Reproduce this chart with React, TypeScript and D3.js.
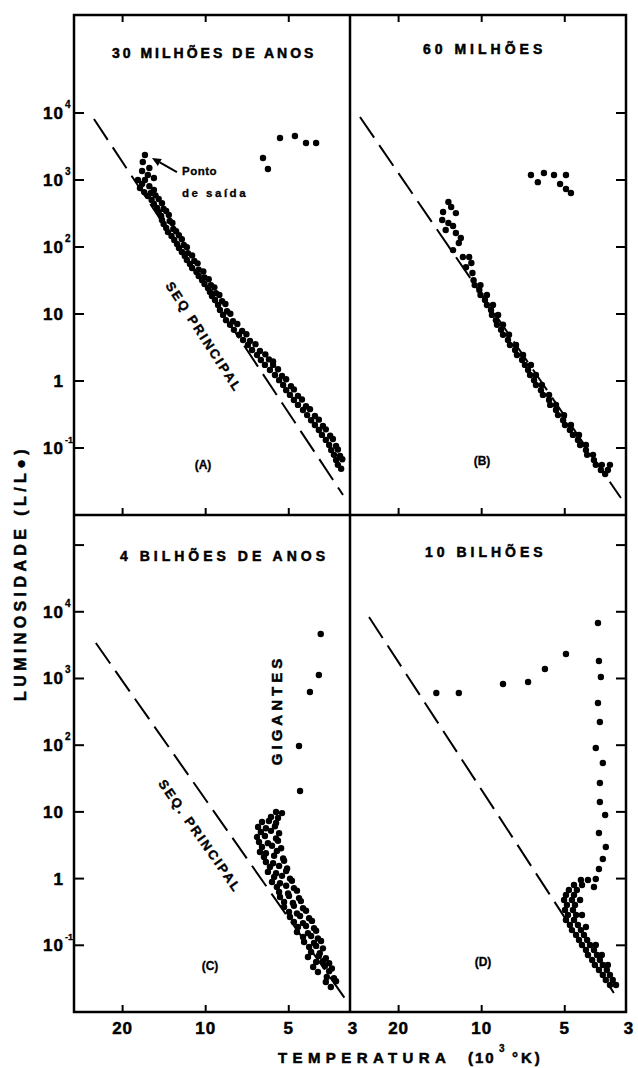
import React from 'react';
import * as d3 from 'd3';

const W = 638;
const H = 1068;

// temperature in 10^3 K, luminosity in L/Lsun
const tempTicks = [20, 10, 5, 3];
const lumTicksTop = [0.1, 1, 10, 100, 1000, 10000];
const lumTicksBottom = [0.1, 1, 10, 100, 1000, 10000, 100000];
const lumLabels = [
  { v: 10000, base: '10', exp: '4' },
  { v: 1000, base: '10', exp: '3' },
  { v: 100, base: '10', exp: '2' },
  { v: 10, base: '10', exp: '' },
  { v: 1, base: '1', exp: '' },
  { v: 0.1, base: '10', exp: '-1' },
];

// (A) 30 milhões de anos
const starsA: [number, number][] = [
  [16.6, 2360], [16.9, 1860], [16.0, 1510], [17.0, 1360], [16.2, 1190], [15.4, 1070],
  [17.6, 1000], [16.6, 1000], [17.0, 870], [16.0, 810], [17.3, 760], [15.4, 710],
  [16.7, 660], [15.8, 640], [16.2, 577], [15.2, 590], [15.7, 502], [14.8, 520],
  [15.4, 438], [14.4, 450], [15.0, 382], [14.2, 370], [14.8, 333], [13.9, 345],
  [14.5, 290], [13.6, 300], [14.4, 253], [13.5, 245], [14.2, 220], [13.2, 228],
  [13.9, 192], [13.1, 186], [13.7, 167], [12.8, 172], [13.3, 146], [12.5, 150],
  [13.0, 127], [12.2, 131], [12.7, 111], [12.0, 107], [12.5, 96.6], [11.7, 99],
  [12.2, 84.2], [11.6, 81], [11.9, 73.4], [11.2, 75], [11.7, 64], [11.0, 62],
  [11.4, 55.8], [10.7, 57], [11.2, 48.6], [10.6, 46], [10.8, 42.4], [10.2, 43],
  [10.6, 36.9], [10.1, 35], [10.3, 32], [9.75, 33], [10.1, 28.0], [9.57, 27],
  [9.81, 24.4], [9.30, 25], [9.65, 21.3], [9.18, 20.5], [9.49, 18.6], [8.92, 19.2],
  [9.25, 16.2], [8.72, 15.5], [9.02, 13.6], [8.48, 14.1], [8.88, 11.5], [8.37, 11.0],
  [8.65, 9.7], [8.14, 10.1], [8.44, 8.1], [7.96, 7.8], [8.16, 6.9], [7.68, 7.1],
  [7.90, 5.8], [7.38, 5.6], [7.57, 4.9], [7.12, 5.0], [7.32, 4.1], [6.91, 3.95],
  [7.03, 3.45], [6.60, 3.55], [6.79, 2.9], [6.36, 2.8], [6.52, 2.45], [6.08, 2.5],
  [6.31, 2.06], [5.90, 2.1], [5.70, 1.95], [6.10, 1.74], [5.70, 1.74],
  [5.85, 1.46], [5.47, 1.5], [5.61, 1.23], [5.29, 1.19], [5.42, 1.03], [5.11, 1.06],
  [5.24, 0.87], [4.91, 0.84], [5.11, 0.73], [4.79, 0.75], [4.95, 0.62], [4.63, 0.6],
  [4.79, 0.52], [4.48, 0.53], [4.63, 0.44], [4.33, 0.42], [4.44, 0.37], [4.19, 0.38],
  [4.29, 0.31], [4.02, 0.3], [4.15, 0.26], [3.89, 0.265], [4.02, 0.22], [3.76, 0.213],
  [3.89, 0.186], [3.67, 0.19], [3.79, 0.157], [3.54, 0.152], [3.67, 0.132], [3.46, 0.136],
  [3.57, 0.111], [3.37, 0.107], [3.51, 0.093], [3.32, 0.095], [3.43, 0.079], [3.26, 0.076],
  [3.37, 0.066], [3.20, 0.068], [3.32, 0.056], [3.23, 0.049],
];
const giantsA: [number, number][] = [
  [6.20, 2130], [5.95, 1460], [5.38, 4240], [4.75, 4540], [4.33, 3570], [3.98, 3570],
];
const seqA: [number, number][] = [[25.4, 8130], [3.18, 0.0199]];

// (B) 60 milhões
const starsB: [number, number][] = [
  [13.2, 470], [12.9, 395], [13.8, 333], [12.4, 321], [13.2, 228], [13.9, 253],
  [12.7, 206], [13.5, 179], [12.4, 162], [11.9, 136], [12.1, 115], [12.7, 90],
  [11.7, 71], [11.1, 71], [10.9, 57.7], [11.4, 50], [10.8, 41], [10.7, 32],
  [10.6, 27], [10.1, 27], [10.2, 22.8], [10.1, 19.2], [9.57, 19.2], [9.73, 16.2],
  [9.57, 13.6], [9.10, 13.6], [9.25, 11.5], [9.18, 9.7], [8.72, 9.7], [8.88, 8.1],
  [8.80, 6.9], [8.37, 6.9], [8.51, 5.8], [8.37, 4.9], [7.96, 4.9], [8.03, 4.1],
  [7.90, 3.45], [7.51, 3.45], [7.57, 2.9], [7.45, 2.45], [7.08, 2.45], [7.14, 2.06],
  [6.97, 1.74], [6.63, 1.74], [6.79, 1.46], [6.68, 1.23], [6.36, 1.23], [6.46, 1.03],
  [6.36, 0.87], [6.05, 0.87], [6.10, 0.73], [6.00, 0.62], [5.70, 0.62], [5.70, 0.52],
  [5.65, 0.44], [5.38, 0.44], [5.38, 0.37], [5.29, 0.31], [5.03, 0.31], [5.07, 0.26],
  [4.99, 0.22], [4.75, 0.22], [4.79, 0.186], [4.67, 0.157], [4.44, 0.157], [4.48, 0.132],
  [4.40, 0.111], [4.19, 0.111], [4.19, 0.093], [4.15, 0.079], [3.95, 0.079], [3.92, 0.066],
  [3.86, 0.056], [3.67, 0.056], [3.43, 0.056], [3.70, 0.047], [3.49, 0.047], [3.57, 0.041],
];
const giantsB: [number, number][] = [
  [6.63, 1190], [5.95, 1270], [5.47, 1190], [4.95, 1190], [6.26, 930], [5.20, 870], [4.95, 735], [4.75, 640],
];
const seqB: [number, number][] = [[27.6, 8710], [3.13, 0.0179]];

// (C) 4 bilhões de anos
const starsC: [number, number][] = [
  [5.56, 9.97], [5.29, 9.6], [5.80, 8.38], [5.47, 8.1],
  [6.25, 7.06], [5.90, 7.3], [5.56, 6.8], [6.46, 5.94], [6.05, 5.7], [5.61, 6.1],
  [6.31, 5.00], [5.80, 5.2], [5.42, 4.8], [6.52, 4.20], [6.10, 4.35], [5.56, 4.0],
  [6.41, 3.54], [5.95, 3.4], [5.47, 3.7], [6.25, 2.98], [5.75, 3.1], [5.33, 2.85],
  [6.36, 2.50], [6.05, 2.4], [5.52, 2.6], [6.15, 2.11], [5.65, 2.2], [5.24, 2.0],
  [6.05, 1.77], [5.70, 1.7], [5.20, 1.85], [5.85, 1.49], [5.42, 1.55], [5.07, 1.42],
  [5.95, 1.26], [5.56, 1.2], [5.11, 1.3], [5.65, 1.06], [5.29, 1.1], [4.95, 1.0],
  [5.75, 0.889], [5.38, 0.85], [4.87, 0.93], [5.52, 0.748], [5.11, 0.78], [4.79, 0.72],
  [5.42, 0.630], [5.03, 0.6], [4.67, 0.66], [5.38, 0.530], [4.99, 0.55], [4.59, 0.51],
  [5.20, 0.446], [4.83, 0.43], [4.52, 0.46], [5.20, 0.375], [4.79, 0.39], [4.44, 0.36],
  [4.99, 0.316], [4.67, 0.3], [4.33, 0.33], [4.95, 0.266], [4.55, 0.275], [4.22, 0.255],
  [4.79, 0.224], [4.44, 0.215], [4.12, 0.232], [4.63, 0.188], [4.33, 0.195], [4.05, 0.18],
  [4.67, 0.158], [4.26, 0.152], [3.98, 0.165], [4.44, 0.133], [4.15, 0.138], [3.92, 0.127],
  [4.40, 0.112], [4.05, 0.108], [3.82, 0.116], [4.22, 0.0943], [3.98, 0.098], [3.76, 0.09],
  [4.15, 0.0794], [3.86, 0.076], [4.26, 0.0668], [3.89, 0.069], [3.67, 0.064],
  [3.98, 0.0562], [3.76, 0.058], [3.57, 0.054], [4.08, 0.0473], [3.70, 0.049], [3.49, 0.045],
  [3.92, 0.0398], [3.57, 0.041], [3.64, 0.0335], [3.43, 0.032], [3.67, 0.0282], [3.37, 0.029],
  [3.52, 0.0237],
];
const giantsC: [number, number][] = [[3.83, 4650], [3.89, 1130], [4.19, 628], [4.59, 97], [4.55, 20.6]];
const seqC: [number, number][] = [[25.0, 3400], [3.10, 0.0151]];

// (D) 10 bilhões
const starsD: [number, number][] = [
  [4.37, 0.953], [4.12, 0.953], [3.92, 0.748], [4.63, 0.802], [4.33, 0.802], [4.83, 0.675], [4.52, 0.675],
  [4.95, 0.568], [4.63, 0.568], [5.03, 0.478], [4.71, 0.478], [4.40, 0.478], [4.91, 0.402], [4.59, 0.402],
  [4.99, 0.338], [4.67, 0.338], [4.87, 0.284], [4.55, 0.284], [4.33, 0.284], [4.95, 0.239], [4.63, 0.239],
  [4.79, 0.201], [4.48, 0.201], [4.19, 0.188], [4.71, 0.169], [4.37, 0.169], [4.55, 0.143], [4.26, 0.143],
  [4.44, 0.120], [4.15, 0.120], [4.33, 0.101], [4.05, 0.101], [3.86, 0.101], [4.19, 0.085], [3.92, 0.085],
  [4.12, 0.0716], [3.82, 0.0716], [3.67, 0.0716], [3.98, 0.0603], [3.73, 0.0603], [3.89, 0.0507],
  [3.64, 0.0507], [3.49, 0.0507], [3.76, 0.0427], [3.52, 0.0427], [3.64, 0.0359], [3.43, 0.0359],
  [3.55, 0.0302], [3.35, 0.0302], [3.43, 0.0254], [3.26, 0.0254],
];
const giantsD: [number, number][] = [
  [3.79, 6790], [3.76, 1830], [3.70, 1050], [3.79, 429], [3.73, 223], [3.86, 90.8], [3.64, 54.1],
  [3.73, 27.1], [3.73, 14.1], [3.57, 8.99], [3.76, 4.83], [3.55, 2.98], [3.64, 1.97], [3.76, 1.39], [3.86, 0.986],
];
const horizD: [number, number][] = [[14.6, 606], [12.1, 606], [8.37, 827], [6.79, 886], [5.90, 1390], [4.95, 2330]];
const seqD: [number, number][] = [[25.6, 8360], [3.32, 0.0193]];

const LEFT = 74;
const MID = 350;
const RIGHT = 626;
const TOP = 15;
const MIDY = 515;
const BOTTOM = 1012;
const PW = 276;

const font = 'Liberation Sans, Arial, sans-serif';

const xFor = (x0: number) => d3.scaleLog().domain([30, 3]).range([x0, x0 + PW]);
const yTop = d3.scaleLog().domain([0.01, Math.pow(10, 5.463)]).range([MIDY, TOP]);
const yBot = d3.scaleLog().domain([0.01, Math.pow(10, 5.451)]).range([BOTTOM, MIDY]);

const panels = [
  { id: 'A', x: xFor(LEFT), y: yTop, pts: [...starsA, ...giantsA], seq: seqA, side: 'left', ticks: lumTicksTop,
    title: '30 MILHÕES DE ANOS', tx: 112, ty: 58, ls: 3, tag: '(A)', gx: 203, gy: 469 },
  { id: 'B', x: xFor(MID), y: yTop, pts: [...starsB, ...giantsB], seq: seqB, side: 'right', ticks: lumTicksTop,
    title: '60 MILHÕES', tx: 423, ty: 54, ls: 4, tag: '(B)', gx: 482, gy: 465 },
  { id: 'C', x: xFor(LEFT), y: yBot, pts: [...starsC, ...giantsC], seq: seqC, side: 'left', ticks: lumTicksBottom,
    title: '4 BILHÕES DE ANOS', tx: 120, ty: 561, ls: 4, tag: '(C)', gx: 210, gy: 970 },
  { id: 'D', x: xFor(MID), y: yBot, pts: [...starsD, ...giantsD, ...horizD], seq: seqD, side: 'right', ticks: lumTicksBottom,
    title: '10 BILHÕES', tx: 425, ty: 557, ls: 4, tag: '(D)', gx: 483, gy: 966 },
];

// heavier lettering, like the hand-stenciled original
const ink = { fill: '#000', stroke: '#000', strokeWidth: 0.5, fontWeight: 'bold' as const };

export default function App() {
  const line = d3.line();
  const xA = panels[0].x;
  const tip = [xA(16.6) + 7, yTop(2360) + 3];
  const tail = [tip[0] + 25, tip[1] + 14];
  const ang = Math.atan2(tip[1] - tail[1], tip[0] - tail[0]);
  const hb = [tip[0] - 9 * Math.cos(ang), tip[1] - 9 * Math.sin(ang)];
  const head = [
    tip,
    [hb[0] - 4 * Math.sin(ang), hb[1] + 4 * Math.cos(ang)],
    [hb[0] + 4 * Math.sin(ang), hb[1] - 4 * Math.cos(ang)],
  ];

  return (
    <svg width={W} height={H} style={{ position: 'absolute', left: 0, top: 0, background: '#fff' }} fontFamily={font}>
      <rect width={W} height={H} fill="#fff" />
      {/* frame */}
      <g stroke="#000" strokeWidth={2.5} fill="none">
        <rect x={LEFT} y={TOP} width={RIGHT - LEFT} height={BOTTOM - TOP} />
        <line x1={MID} x2={MID} y1={TOP} y2={BOTTOM} />
        <line x1={LEFT} x2={RIGHT} y1={MIDY} y2={MIDY} />
      </g>
      {panels.map((p) => {
        const isTop = p.id === 'A' || p.id === 'B';
        const x0 = p.x.range()[0];
        const xEdge = p.side === 'left' ? x0 : x0 + PW;
        const dir = p.side === 'left' ? 1 : -1;
        return (
          <g key={p.id}>
            {/* x ticks */}
            {tempTicks.slice(0, 3).map((t) => (
              <g key={t} stroke="#000" strokeWidth={2}>
                {isTop && <line x1={p.x(t)} x2={p.x(t)} y1={TOP} y2={TOP + 7} />}
                {isTop && <line x1={p.x(t)} x2={p.x(t)} y1={MIDY} y2={MIDY - 7} />}
                {!isTop && <line x1={p.x(t)} x2={p.x(t)} y1={BOTTOM} y2={BOTTOM - 7} />}
              </g>
            ))}
            {!isTop && tempTicks.map((t) => (
              <text key={'l' + t} x={p.x(t) + (t === 3 ? 3 : 0)} y={BOTTOM + 22} textAnchor="middle"
                fontSize={17} letterSpacing={1} {...ink}>{t}</text>
            ))}
            {/* y ticks */}
            {p.ticks.map((v) => (
              <line key={v} x1={xEdge} x2={xEdge + dir * 10} y1={p.y(v)} y2={p.y(v)} stroke="#000" strokeWidth={2} />
            ))}
            {p.side === 'left' && lumLabels.map((lb) => {
              const yy = p.y(lb.v);
              return (
                <g key={lb.v}>
                  <text x={LEFT - 10} y={yy + 6} textAnchor="end" fontSize={17} letterSpacing={1} {...ink}>{lb.base}</text>
                  {lb.exp && (
                    <text x={LEFT - 9} y={yy - 5} textAnchor="start" fontSize={lb.exp === '-1' ? 9 : 10}
                      {...ink} strokeWidth={0.3}>{lb.exp}</text>
                  )}
                </g>
              );
            })}
            {/* main sequence */}
            <path d={line(p.seq.map(([t, l]) => [p.x(t), p.y(l)]) as [number, number][]) || ''}
              fill="none" stroke="#000" strokeWidth={2} strokeDasharray="25 9" />
            {/* stars */}
            {p.pts.map(([t, l], i) => (
              <circle key={i} cx={p.x(t)} cy={p.y(l)} r={3.2} fill="#000" />
            ))}
            <text x={p.tx} y={p.ty} fontSize={14} letterSpacing={p.ls} {...ink}>{p.title}</text>
            <text x={p.gx} y={p.gy} fontSize={12} textAnchor="middle" {...ink} strokeWidth={0.3}>{p.tag}</text>
          </g>
        );
      })}
      {/* annotations */}
      <line x1={tail[0]} y1={tail[1]} x2={hb[0]} y2={hb[1]} stroke="#000" strokeWidth={2} />
      <polygon points={head.map((d) => d.join(',')).join(' ')} fill="#000" />
      <text x={182} y={175} fontSize={11.5} letterSpacing={0.5} {...ink} strokeWidth={0.3}>Ponto</text>
      <text x={182} y={197} fontSize={11.5} letterSpacing={2.5} {...ink} strokeWidth={0.3}>de saída</text>
      <text transform="translate(204,337) rotate(57)" textAnchor="middle" dy="0.35em" fontSize={13}
        letterSpacing={2.2} {...ink} strokeWidth={0.4}>SEQ  PRINCIPAL</text>
      <text transform="translate(200,836) rotate(55)" textAnchor="middle" dy="0.35em" fontSize={13}
        letterSpacing={2.2} {...ink} strokeWidth={0.4}>SEQ. PRINCIPAL</text>
      <text transform="translate(277,710) rotate(-90)" textAnchor="middle" dy="0.35em" fontSize={15}
        letterSpacing={4} {...ink}>GIGANTES</text>
      {/* axis titles */}
      <text transform="translate(20,573) rotate(-90)" textAnchor="middle" dy="0.35em" fontSize={16}
        letterSpacing={4.4} {...ink}>LUMINOSIDADE (L/L●)</text>
      <text x={278} y={1063} fontSize={15} letterSpacing={5.4} {...ink}>TEMPERATURA</text>
      <text x={468} y={1063} fontSize={15} letterSpacing={2} {...ink}>(10</text>
      <text x={499} y={1052} fontSize={10} {...ink} strokeWidth={0.3}>3</text>
      <text x={512} y={1063} fontSize={15} letterSpacing={3} {...ink}>°K)</text>
    </svg>
  );
}
